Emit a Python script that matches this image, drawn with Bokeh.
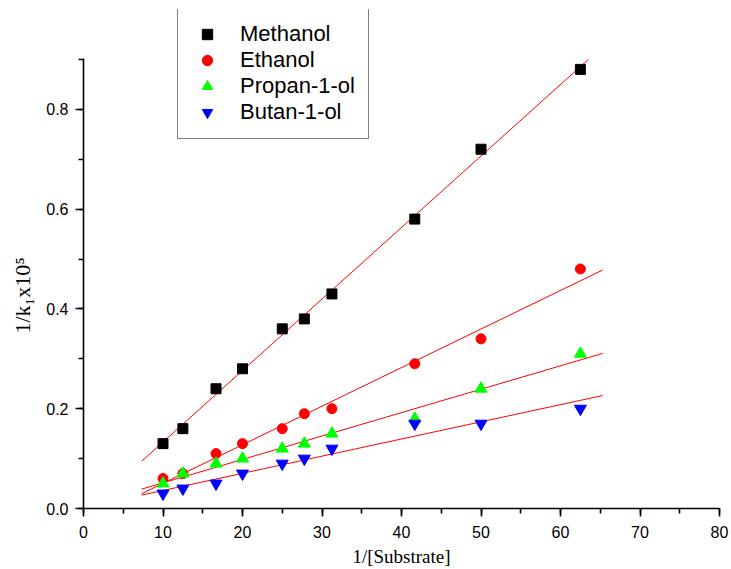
import numpy as np
from bokeh.plotting import figure
from bokeh.models import (Range1d, SingleIntervalTicker, PrintfTickFormatter,
                          Legend, LegendItem, Title)
from bokeh.embed import file_html
from bokeh.resources import INLINE

# ---- data ----
x_substrate = [10, 12.5, 16.67, 20, 25, 27.78, 31.25, 41.67, 50, 62.5]
methanol = [0.13, 0.16, 0.24, 0.28, 0.36, 0.38, 0.43, 0.58, 0.72, 0.88]
ethanol = [0.06, 0.07, 0.11, 0.13, 0.16, 0.19, 0.20, 0.29, 0.34, 0.48]
propanol = [0.05, 0.07, 0.09, 0.10, 0.12, 0.13, 0.15, 0.18, 0.24, 0.31]
butanol = [0.03, 0.04, 0.05, 0.07, 0.09, 0.10, 0.12, 0.17, 0.17, 0.20]
series_names = ["Methanol", "Ethanol", "Propan-1-ol", "Butan-1-ol"]
fit_x_span = [7.3, 65.3]
y_axis_top = 0.9

series = [
    (methanol, "square", "#000000", 10),
    (ethanol, "circle", "#FF0000", 10),
    (propanol, "triangle", "#00FF00", 12),
    (butanol, "inverted_triangle", "#0000FF", 12),
]

p = figure(width=731, height=569, output_backend="svg", toolbar_location=None,
           x_range=Range1d(0, 80), y_range=Range1d(0, 1.0),
           min_border_left=83, min_border_right=12, min_border_top=9,
           min_border_bottom=60)
p.outline_line_color = None
p.grid.visible = False
p.background_fill_color = "white"
p.border_fill_color = "white"

items = []
for (ys, marker, color, size), name in zip(series, series_names):
    # linear fit line (red), stopped at the top of the y axis
    m, b = np.polyfit(np.array(x_substrate), np.array(ys), 1)
    x0, x1 = fit_x_span
    if m * x1 + b > y_axis_top:
        x1 = (y_axis_top - b) / m
    p.line([x0, x1], [m * x0 + b, m * x1 + b], line_color="#FF0000", line_width=1)

for (ys, marker, color, size), name in zip(series, series_names):
    r = p.scatter(x_substrate, ys, marker=marker, size=size,
                  fill_color=color, line_color=color)
    items.append(LegendItem(label=name, renderers=[r]))

legend = Legend(items=items, location=(94, 369), margin=0,
                padding=13, spacing=0, glyph_width=32, glyph_height=26,
                label_height=26, label_standoff=17,
                label_text_font="Liberation Sans", label_text_font_size="22px",
                label_text_color="black",
                border_line_color="black", border_line_width=1.2,
                background_fill_color="white", background_fill_alpha=1.0)
p.add_layout(legend, "center")

# axes
xa = p.xaxis[0]
xa.ticker = SingleIntervalTicker(interval=10, num_minor_ticks=2)
xa.axis_label = "1/[Substrate]"
ya = p.yaxis[0]
ya.ticker = SingleIntervalTicker(interval=0.2, num_minor_ticks=2)
ya.formatter = PrintfTickFormatter(format="%.1f")
ya.bounds = (0, 0.901)

for ax in (xa, ya):
    ax.axis_line_color = "black"
    ax.axis_line_width = 1.6
    ax.major_tick_line_color = "black"
    ax.minor_tick_line_color = "black"
    ax.major_tick_line_width = 1.6
    ax.minor_tick_line_width = 1.6
    ax.major_tick_in = 0
    ax.major_tick_out = 8
    ax.minor_tick_in = 0
    ax.minor_tick_out = 5
    ax.major_label_text_font = "Liberation Sans"
    ax.major_label_text_font_size = "16px"
    ax.major_label_text_color = "black"
    ax.axis_label_text_font = "Liberation Serif"
    ax.axis_label_text_font_style = "normal"
    ax.axis_label_text_color = "black"

xa.axis_label_text_font_size = "19px"
xa.major_label_standoff = 9
xa.axis_label_standoff = 5
xa.major_label_text_line_height = 0.8
xa.axis_label_text_line_height = 0.8
ya.major_label_standoff = 7

# y-axis title (side title, starting partway up the axis as in the reference)
ytitle = Title(text="1/k\u2081x10\u2075", align="left", offset=175,
               vertical_align="top",
               text_font="Liberation Serif", text_font_size="22px",
               text_font_style="normal", text_color="black", standoff=14)
p.add_layout(ytitle, "left")

open("out.html", "w").write(file_html(p, INLINE))
